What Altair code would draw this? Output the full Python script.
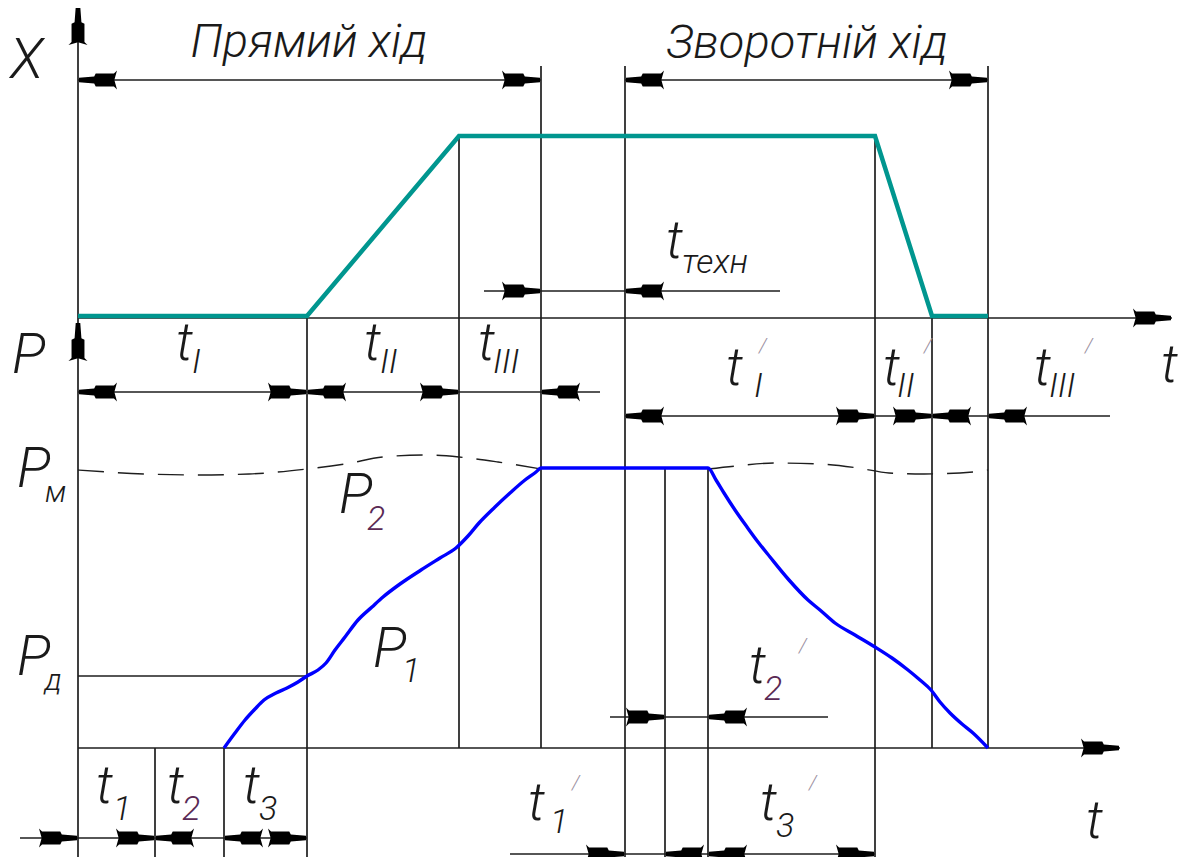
import altair as alt
import pandas as pd

# ---------------- data (diagram units, y grows downward) ----------------
# X(t) displacement path (teal)
x_path_t = [78, 307, 459, 875, 932, 988]
x_path_v = [316, 316, 136, 136, 316, 316]

# P(t) pressure curve (blue)
p_t = [224, 235, 245, 255, 264, 276, 287, 298, 307, 318, 326, 335, 345, 358, 372,
       383, 400, 421, 440, 456, 468, 479, 495, 510, 525, 536, 541, 708, 716, 724,
       735, 747, 758, 770, 789, 808, 820, 835, 855, 875, 892, 908, 920, 931, 940,
       950, 962, 973, 988]
p_v = [748, 733, 720, 709, 700, 693, 688, 682, 676, 670, 663, 650, 637, 620, 607,
       597, 584, 570, 558, 548, 536, 523, 507, 493, 480, 472, 468, 468, 480, 493,
       510, 527, 542, 557, 580, 600, 610, 623, 635, 647, 658, 670, 680, 690, 702,
       713, 724, 733, 748]

# P_M dashed level (two pieces)
pm1_t = [78, 145, 199, 249, 307, 345, 383, 425, 459, 498, 541]
pm1_v = [470, 474, 475, 474, 469, 464, 457, 455, 457, 462, 469]
pm2_t = [708, 736, 774, 820, 858, 889, 923, 973, 988]
pm2_v = [469, 466, 463, 464, 468, 473, 474, 472, 470]

# vertical lines: position, top, bottom
v_x = [78, 307, 459, 541, 625, 665, 708, 875, 932, 988, 155, 224]
v_y1 = [6, 316, 136, 66, 66, 468, 468, 136, 316, 66, 748, 748]
v_y2 = [857, 857, 748, 748, 865, 865, 865, 858, 748, 748, 857, 857]

# horizontal lines: level, start, end
h_y = [80, 80, 291, 318, 392, 416, 676, 748, 717, 838, 854]
h_x1 = [78, 625, 484, 78, 78, 625, 78, 78, 610, 20, 510]
h_x2 = [541, 988, 780, 1172, 600, 1110, 307, 1120, 828, 307, 875]

# arrow heads: tip position and direction
a_x = [78, 78, 78, 541, 625, 988, 541, 625, 1172,
       78, 307, 307, 459, 541,
       625, 875, 932, 932, 988,
       1120, 665, 708,
       78, 155, 155, 224, 307,
       625, 665, 708, 875]
a_y = [6, 322, 80, 80, 80, 80, 291, 291, 318,
       392, 392, 392, 392, 392,
       416, 416, 416, 416, 416,
       748, 717, 717,
       838, 838, 838, 838, 838,
       854, 854, 854, 854]
a_dir = ["up", "up", "left", "right", "left", "right", "right", "left", "right",
         "left", "right", "left", "right", "left",
         "left", "right", "right", "left", "left",
         "right", "right", "left",
         "right", "right", "left", "left", "right",
         "right", "left", "left", "right"]

# text labels: text, left x, baseline y, font size
lab_text = ["X", "P", "t", "техн",
            "t", "I", "t", "II", "t", "III",
            "t", "I", "/", "t", "II", "/", "t", "III", "/", "t",
            "P", "м", "P", "2", "P", "1", "P", "д",
            "t", "1", "t", "2", "t", "3",
            "t", "1", "/", "t", "2", "/", "t", "3", "/", "t"]
lab_x = [10, 12, 666, 682,
         176, 192, 364, 380, 478, 493,
         726, 754, 759, 883, 897, 924, 1034, 1049, 1085, 1161,
         17, 45, 339, 367, 373, 402, 17, 45,
         96, 113, 167, 182, 243, 259,
         528, 550, 572, 749, 764, 799, 760, 776, 809, 1086]
lab_y = [78, 373, 258, 273,
         360, 373, 360, 373, 360, 373,
         385, 397, 353, 385, 397, 353, 385, 397, 353, 382,
         487, 502, 513, 530, 667, 682, 675, 690,
         803, 820, 803, 820, 803, 820,
         820, 833, 790, 683, 700, 653, 820, 837, 790, 838]
lab_size = [56, 56, 54, 34,
            54, 34, 54, 34, 54, 34,
            54, 34, 20, 54, 34, 20, 54, 34, 20, 54,
            56, 30, 56, 34, 56, 34, 56, 30,
            54, 34, 54, 34, 54, 34,
            54, 34, 20, 54, 34, 20, 54, 34, 20, 54]
lab_color = ["#1a1a1a"] * len(lab_text)
for i, t in enumerate(lab_text):
    if t == "/":
        lab_color[i] = "#9a8fa0"
    if t == "2":
        lab_color[i] = "#5a2a55"

head_text = ["Прямий хід", "Зворотній хід"]
head_x = [309, 807]
head_y = [57, 58]

# ---------------- tables ----------------
xpath = pd.DataFrame({"x": x_path_t, "y": x_path_v, "i": range(len(x_path_t))})
pcur = pd.DataFrame({"x": p_t, "y": p_v, "i": range(len(p_t))})
pm = pd.DataFrame({
    "x": pm1_t + pm2_t,
    "y": pm1_v + pm2_v,
    "seg": ["a"] * len(pm1_t) + ["b"] * len(pm2_t),
    "i": list(range(len(pm1_t))) + list(range(len(pm2_t))),
})
vl = pd.DataFrame({"x": v_x, "y": v_y1, "y2": v_y2})
hl = pd.DataFrame({"y": h_y, "x": h_x1, "x2": h_x2})

L = 38  # arrow glyph length
dirs = {"right": (1, 0, 0), "left": (-1, 0, 180), "up": (0, -1, 270), "down": (0, 1, 90)}
arr = pd.DataFrame({
    "x": [x - dirs[d][0] * (L / 2 + 1) for x, d in zip(a_x, a_dir)],
    "y": [y - dirs[d][1] * (L / 2 + 1) for y, d in zip(a_y, a_dir)],
    "angle": [dirs[d][2] for d in a_dir],
})
labs = pd.DataFrame({"text": lab_text, "x": lab_x, "y": lab_y,
                     "size": lab_size, "color": lab_color})
heads = pd.DataFrame({"text": head_text, "x": head_x, "y": head_y})

# ---------------- encodings ----------------
W, H = 1171, 849
xs = alt.Scale(domain=[8, 8 + W], nice=False, zero=False)
ys = alt.Scale(domain=[8, 8 + H], nice=False, zero=False, reverse=True)
X = alt.X("x:Q", scale=xs, axis=None)
Y = alt.Y("y:Q", scale=ys, axis=None)

FONT = "Roboto, Liberation Sans Narrow, DejaVu Sans Condensed, sans-serif"
LINE = "#1e1e1e"

vrules = alt.Chart(vl).mark_rule(color=LINE, strokeWidth=1.7).encode(
    x=X, y=Y, y2="y2:Q")
hrules = alt.Chart(hl).mark_rule(color=LINE, strokeWidth=1.7).encode(
    x=X, x2="x2:Q", y=Y)

pm_line = alt.Chart(pm).mark_line(color=LINE, strokeWidth=1.4, strokeDash=[26, 14],
                                  interpolate="monotone").encode(
    x=X, y=Y, detail="seg:N", order="i:Q")

xline = alt.Chart(xpath).mark_line(color="#00968f", strokeWidth=4.5,
                                   strokeJoin="miter").encode(
    x=X, y=Y, order="i:Q")

pline = alt.Chart(pcur).mark_line(color="#0000ff", strokeWidth=3.4,
                                  interpolate="monotone").encode(
    x=X, y=Y, order="i:Q")

ARROW = ("M -1 -0.5 L -0.84 -0.34 L 0.12 -0.34 L 0.2 -0.18 L 1 -0.12 "
         "L 1 0.12 L 0.2 0.18 L 0.12 0.34 L -0.84 0.34 L -1 0.5 L -0.86 0 Z")
arrows = alt.Chart(arr).mark_point(shape=ARROW, filled=True, size=L * L,
                                   color="#000000", opacity=1, strokeWidth=0).encode(
    x=X, y=Y, angle=alt.Angle("angle:Q", scale=None))

texts = alt.Chart(labs).mark_text(align="left", baseline="alphabetic", font=FONT,
                                  fontStyle="italic", fontWeight=300).encode(
    x=X, y=Y, text="text:N",
    size=alt.Size("size:Q", scale=None),
    color=alt.Color("color:N", scale=None))

headings = alt.Chart(heads).mark_text(align="center", baseline="alphabetic", font=FONT,
                                      fontStyle="italic", fontWeight=300, fontSize=47,
                                      color="#1a1a1a").encode(
    x=X, y=Y, text="text:N")

chart = alt.layer(vrules, hrules, pm_line, xline, pline, arrows, texts, headings).properties(
    width=W, height=H, padding=0,
    autosize=alt.AutoSizeParams(type="none"),
    background="white",
).configure_view(stroke=None)

chart.save("out.html", embed_options={"renderer": "svg", "actions": False})
